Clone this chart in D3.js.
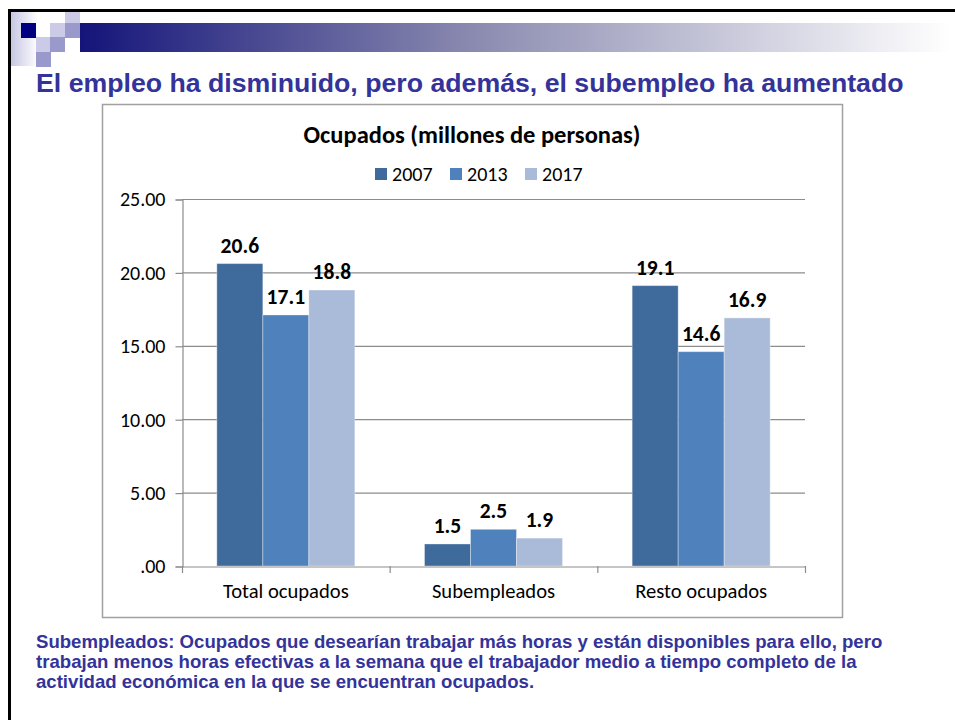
<!DOCTYPE html>
<html>
<head>
<meta charset="utf-8">
<script src="https://cdn.jsdelivr.net/npm/d3@7"></script>
<style>
  body { margin: 0; background: #fff; }
  svg { display: block; }
</style>
</head>
<body>
<div id="chart"></div>
<script>
var width = 955;
var height = 720;

var categories = ["Total ocupados", "Subempleados", "Resto ocupados"];
var years = ["2007", "2013", "2017"];
var values2007 = [20.6, 1.5, 19.1];
var values2013 = [17.1, 2.5, 14.6];
var values2017 = [18.8, 1.9, 16.9];
var yTicks = [0, 5, 10, 15, 20, 25];
var noteLines = [
  "Subempleados: Ocupados que desearían trabajar más horas y están disponibles para ello, pero",
  "trabajan menos horas efectivas a la semana que el trabajador medio a tiempo completo de la",
  "actividad económica en la que se encuentran ocupados."
];

var series = [values2007, values2013, values2017];
var data = [];
categories.forEach(function(c, i) {
  years.forEach(function(y, j) {
    data.push({ cat: c, year: y, value: series[j][i] });
  });
});

var color = d3.scaleOrdinal().domain(years).range(["#3f6a9c", "#4f81bd", "#aabbd9"]);
var chartFont = "Carlito, Calibri, Lato, sans-serif";

var svg = d3.select("#chart")
  .append("svg")
  .attr("width", width)
  .attr("height", height);

// slide decoration
var defs = svg.append("defs");
var grad = defs.append("linearGradient").attr("id", "bar");
grad.append("stop").attr("offset", "0%").attr("stop-color", "#14147a");
grad.append("stop").attr("offset", "45%").attr("stop-color", "#8a8ab0");
grad.append("stop").attr("offset", "100%").attr("stop-color", "#ffffff");
var grad2 = defs.append("linearGradient").attr("id", "side");
grad2.append("stop").attr("offset", "0%").attr("stop-color", "#c4c4e2");
grad2.append("stop").attr("offset", "100%").attr("stop-color", "#ffffff");

svg.append("rect").attr("x", 10).attr("y", 12).attr("width", 28).attr("height", 54).attr("fill", "url(#side)");
svg.append("rect").attr("x", 80).attr("y", 23).attr("width", 870).attr("height", 29).attr("fill", "url(#bar)");

var squares = [
  [21, 23, "#000080"], [50, 23, "#cbcbe8"], [65, 23, "#9999cc"], [65, 12, "#cbcbe8"],
  [36, 37, "#cbcbe8"], [50, 37, "#9999cc"], [36, 52, "#9999cc"]
];
svg.selectAll("rect.sq")
  .data(squares)
  .enter()
  .append("rect")
  .attr("class", "sq")
  .attr("x", function(d) { return d[0]; })
  .attr("y", function(d) { return d[1]; })
  .attr("width", 15)
  .attr("height", function(d) { return d[1] == 12 ? 11 : 15; })
  .attr("fill", function(d) { return d[2]; });

// slide frame
svg.append("line").attr("x1", 8).attr("x2", width).attr("y1", 10.5).attr("y2", 10.5)
  .attr("stroke", "#000").attr("stroke-width", 3);
svg.append("line").attr("x1", 9.5).attr("x2", 9.5).attr("y1", 9).attr("y2", height)
  .attr("stroke", "#000").attr("stroke-width", 3);

svg.append("text")
  .attr("x", 36)
  .attr("y", 92)
  .style("font-family", "Arial, 'Liberation Sans', sans-serif")
  .style("font-weight", "bold")
  .style("font-size", "26.7px")
  .style("fill", "#333399")
  .text("El empleo ha disminuido, pero además, el subempleo ha aumentado");

// chart box
svg.append("rect")
  .attr("x", 102.5).attr("y", 104.5)
  .attr("width", 740).attr("height", 513)
  .attr("fill", "#fff")
  .attr("stroke", "#a0a0a0")
  .attr("stroke-width", 1.5);

svg.append("text")
  .attr("x", 472)
  .attr("y", 143)
  .attr("text-anchor", "middle")
  .style("font-family", chartFont)
  .style("font-weight", "bold")
  .style("font-size", "24.5px")
  .text("Ocupados (millones de personas)");

// legend
var legendX = [375, 450, 525];
var legend = svg.selectAll("g.legend")
  .data(years)
  .enter()
  .append("g")
  .attr("class", "legend")
  .attr("transform", function(d, i) { return "translate(" + legendX[i] + ",168)"; });
legend.append("rect").attr("width", 12).attr("height", 12).attr("fill", function(d) { return color(d); });
legend.append("text")
  .attr("x", 17).attr("y", 12.5)
  .style("font-family", chartFont)
  .style("font-size", "20px")
  .text(function(d) { return d; });

// plot
var left = 182, right = 805, plotTop = 199, bottom = 566;

var x0 = d3.scaleBand().domain(categories).range([left, right]).padding(0);
var x1 = d3.scaleBand().domain(years).range([0, x0.bandwidth()]).paddingInner(0).paddingOuter(0.757);
var y = d3.scaleLinear().domain([0, 25]).range([bottom, plotTop]);

var fmt = function(d) { return d3.format(".2f")(d).replace(/^0\./, "."); };

svg.append("g")
  .attr("class", "grid")
  .selectAll("line")
  .data(yTicks.filter(function(d) { return d > 0; }))
  .enter()
  .append("line")
  .attr("x1", left).attr("x2", right)
  .attr("y1", function(d) { return y(d) + 0.5; })
  .attr("y2", function(d) { return y(d) + 0.5; })
  .attr("stroke", "#8c8c8c")
  .attr("stroke-width", 1.2);

var yAxis = svg.append("g")
  .attr("transform", "translate(" + (left + 0.5) + ",0.5)")
  .call(d3.axisLeft(y).tickValues(yTicks).tickFormat(fmt).tickSize(7).tickPadding(10));
yAxis.select(".domain").attr("stroke", "#8c8c8c").attr("stroke-width", 1.2);
yAxis.selectAll(".tick line").attr("stroke", "#8c8c8c").attr("stroke-width", 1.2);
yAxis.selectAll("text")
  .style("font-family", chartFont)
  .style("font-size", "20px")
  .style("fill", "#000");

svg.append("g")
  .selectAll("rect")
  .data(data)
  .enter()
  .append("rect")
  .attr("x", function(d) { return x0(d.cat) + x1(d.year); })
  .attr("y", function(d) { return y(d.value); })
  .attr("width", x1.bandwidth())
  .attr("height", function(d) { return bottom - y(d.value); })
  .attr("fill", function(d) { return color(d.year); })
  .attr("stroke", "#ffffff")
  .attr("stroke-opacity", 0.35)
  .attr("stroke-width", 1);

svg.append("g")
  .selectAll("text")
  .data(data)
  .enter()
  .append("text")
  .attr("x", function(d) { return x0(d.cat) + x1(d.year) + x1.bandwidth() / 2; })
  .attr("y", function(d) { return y(d.value) - 11; })
  .attr("text-anchor", "middle")
  .style("font-family", chartFont)
  .style("font-weight", "bold")
  .style("font-size", "21.5px")
  .text(function(d) { return d.value.toFixed(1); });

var xAxis = svg.append("g")
  .attr("transform", "translate(0," + (bottom + 0.5) + ")")
  .call(d3.axisBottom(x0).tickSize(0).tickPadding(17));
xAxis.select(".domain").attr("stroke", "#8c8c8c").attr("stroke-width", 1.2);
xAxis.selectAll("text")
  .style("font-family", chartFont)
  .style("font-size", "20.6px")
  .style("fill", "#000");

// category boundary ticks
var bounds = categories.map(function(c) { return x0(c); }).concat([right]);
svg.append("g")
  .selectAll("line")
  .data(bounds)
  .enter()
  .append("line")
  .attr("x1", function(d) { return d + 0.5; })
  .attr("x2", function(d) { return d + 0.5; })
  .attr("y1", bottom)
  .attr("y2", bottom + 7)
  .attr("stroke", "#8c8c8c")
  .attr("stroke-width", 1.2);

// footnote
svg.append("g")
  .selectAll("text")
  .data(noteLines)
  .enter()
  .append("text")
  .attr("x", 36)
  .attr("y", function(d, i) { return 648 + i * 20; })
  .style("font-family", "Arial, 'Liberation Sans', sans-serif")
  .style("font-weight", "bold")
  .style("font-size", "18.6px")
  .style("fill", "#333399")
  .text(function(d) { return d; });
</script>
</body>
</html>
